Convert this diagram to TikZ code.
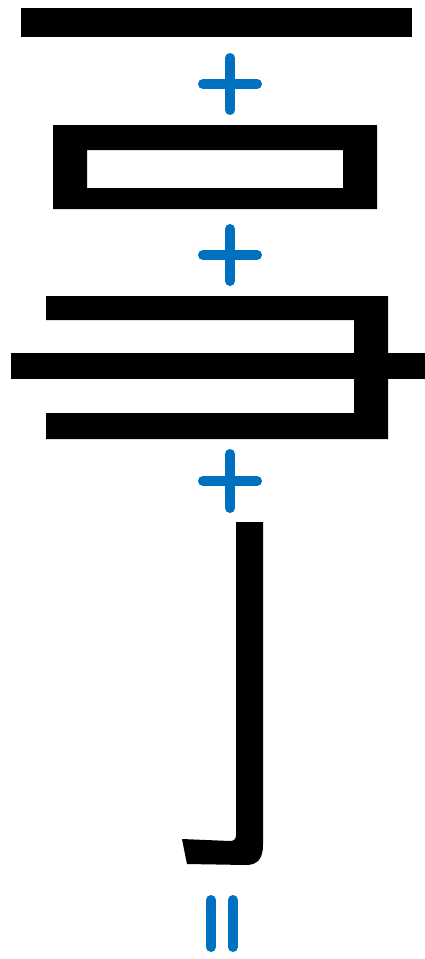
\documentclass[tikz,border=0pt]{standalone}
\definecolor{plusblue}{HTML}{0070C0}
\tikzset{
  stroke/.style={fill=black,draw=none},
  sign/.style={draw=plusblue,line width=10pt,line cap=round}
}
\begin{document}
\begin{tikzpicture}[x=1pt,y=-1pt]
\useasboundingbox (0,0) rectangle (425,959);
% 一
\fill[stroke] (21,8) rectangle (412,37);
% +
\draw[sign] (203,84) -- (257,84) (230,58) -- (230,110);
% 口
\fill[stroke,even odd rule] (53,125) rectangle (377,209) (87,150) rectangle (343,188);
% +
\draw[sign] (203,255) -- (257,255) (230,229) -- (230,281);
% ヨ
\fill[stroke] (46,296) -- (388,296) -- (388,439) -- (46,439) -- (46,413) -- (354,413) -- (354,320) -- (46,320) -- cycle;
\fill[stroke] (11,353) rectangle (425,379);
% +
\draw[sign] (203,481) -- (257,481) (230,454) -- (230,508);
% 亅
\fill[stroke] (236,522) -- (263,522) -- (263,845) .. controls (263,858) and (258,865) .. (246,865)
  -- (187,864) -- (182,839) -- (230,841) .. controls (234,841) and (236,839) .. (236,835) -- cycle;
% =
\draw[sign] (211,900) -- (211,947) (233,900) -- (233,947);
\end{tikzpicture}
\end{document}
